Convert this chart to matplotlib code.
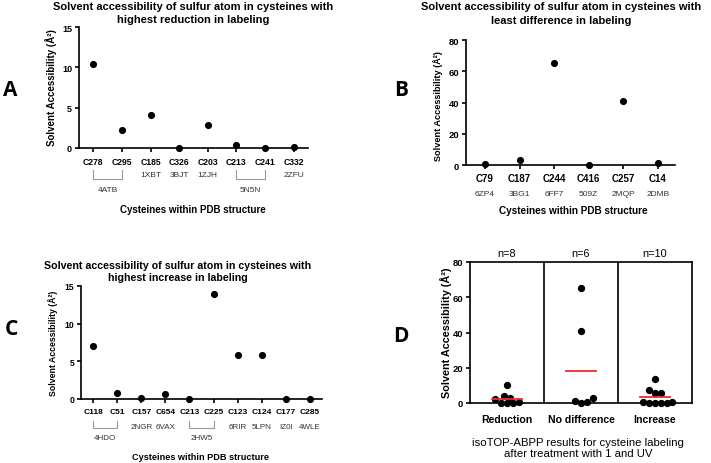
import matplotlib
matplotlib.use("Agg")
import matplotlib.pyplot as plt
import matplotlib.transforms as mtransforms

plt.rcParams["font.family"] = ["Liberation Sans", "DejaVu Sans"]

W, H = 711, 464

# --- data -------------------------------------------------------------------
a_cys = ["C278", "C295", "C185", "C326", "C203", "C213", "C241", "C332"]
a_vals = [10.4, 2.2, 4.1, 0.0, 2.9, 0.4, 0.0, 0.1]
a_pdb_single = {"C185": "1XBT", "C326": "3BJT", "C203": "1ZJH", "C332": "2ZFU"}
a_pdb_pairs = [("C278", "C295", "4ATB"), ("C213", "C241", "5N5N")]

b_cys = ["C79", "C187", "C244", "C416", "C257", "C14"]
b_vals = [0.8, 2.9, 65.0, 0.0, 40.8, 1.0]
b_pdb = ["6ZP4", "3BG1", "6FF7", "509Z", "2MQP", "2DMB"]

c_cys = ["C118", "C51", "C157", "C654", "C213", "C225", "C123", "C124", "C177", "C285"]
c_vals = [7.1, 0.8, 0.1, 0.65, 0.05, 13.9, 5.85, 5.9, 0.0, 0.0]
c_pdb_single = {"C157": "2NGR", "C654": "6VAX", "C123": "6RIR", "C124": "5LPN",
                "C177": "IZ0I", "C285": "4WLE"}
c_pdb_pairs = [("C118", "C51", "4HDO"), ("C213", "C225", "2HW5")]

d_groups = ["Reduction", "No difference", "Increase"]
d_vals = [a_vals, b_vals, c_vals]

YLAB = "Solvent Accessibility (Å²)"


def fx(x):
    return x / W


def fy(y):
    return 1 - y / H


def rect(l, t, r, b):
    return [l / W, 1 - b / H, (r - l) / W, (b - t) / H]


def style_axis(ax, tick_fs, ytick_fs, xpad=2.5):
    for s in ["top", "right"]:
        ax.spines[s].set_visible(False)
    for s in ["left", "bottom"]:
        ax.spines[s].set_linewidth(1.2)
    ax.tick_params(axis="both", direction="out", length=3, width=1.2, pad=2)
    ax.tick_params(axis="x", labelsize=tick_fs, pad=xpad)
    ax.tick_params(axis="y", labelsize=ytick_fs)
    for lab in ax.get_xticklabels() + ax.get_yticklabels():
        lab.set_fontweight("bold")


def category_panel(ax, cys, vals, ymax, ystep, tick_fs, ytick_fs):
    x = list(range(len(cys)))
    ax.scatter(x, vals, s=17, color="black", zorder=3, clip_on=False)
    ax.set_xlim(-0.5, len(cys) - 0.5)
    ax.set_ylim(0, ymax)
    ax.set_yticks(range(0, ymax + 1, ystep))
    ax.set_xticks(x)
    ax.set_xticklabels(cys)
    style_axis(ax, tick_fs, ytick_fs)


def pdb_labels(fig, ax, cys, singles, pairs, y_single, y_top, y_bot, y_pair, fs):
    tr = mtransforms.blended_transform_factory(ax.transData, fig.transFigure)
    for c, lab in singles.items():
        fig.text(cys.index(c), fy(y_single), lab, transform=tr, ha="center",
                 va="center", fontsize=fs, color="#333333")
    for c1, c2, lab in pairs:
        i1, i2 = cys.index(c1), cys.index(c2)
        fig.lines.append(plt.Line2D([i1, i1, i2, i2],
                                    [fy(y_top), fy(y_bot), fy(y_bot), fy(y_top)],
                                    transform=tr, color="#999999", lw=0.8))
        fig.text((i1 + i2) / 2, fy(y_pair), lab, transform=tr, ha="center",
                 va="center", fontsize=fs, color="#333333")


def swarm(vals, dx, dy):
    # simple beeswarm: spread points sideways so they do not overlap
    order = sorted(range(len(vals)), key=lambda i: vals[i])
    placed = []
    offs = [0.0] * len(vals)
    steps = [0]
    for k in range(1, 12):
        steps += [k * 0.5, -k * 0.5]
    for i in order:
        v = vals[i]
        for s in steps:
            xo = s * dx
            if all(((xo - px) / dx) ** 2 + ((v - pv) / dy) ** 2 >= 1 for px, pv in placed):
                break
        placed.append((xo, v))
        offs[i] = xo
    return offs


fig = plt.figure(figsize=(W / 100, H / 100), dpi=100)

# --- A ------------------------------------------------------------------------
axA = fig.add_axes(rect(79, 28, 308, 149))
category_panel(axA, a_cys, a_vals, 15, 5, 6.2, 6.5)
axA.tick_params(axis="x", pad=3.5)
pdb_labels(fig, axA, a_cys, a_pdb_single, a_pdb_pairs, 176, 170.5, 180, 191, 6)
fig.text(fx(193), fy(13.5), "Solvent accessibility of sulfur atom in cysteines with\n"
         "highest reduction in labeling", ha="center", va="center", fontsize=8,
         fontweight="bold", linespacing=1.3)
fig.text(fx(51), fy(88), YLAB, rotation=90, ha="center",
         va="center", fontsize=7, fontweight="bold")
fig.text(fx(193), fy(210), "Cysteines within PDB structure", ha="center", va="center",
         fontsize=7, fontweight="bold")

# --- B ------------------------------------------------------------------------
axB = fig.add_axes(rect(466, 41, 675, 166))
category_panel(axB, b_cys, b_vals, 80, 20, 7, 6.8)
axB.set_xlim(-0.55, len(b_cys) - 0.5)
trB = mtransforms.blended_transform_factory(axB.transData, fig.transFigure)
for i, lab in enumerate(b_pdb):
    fig.text(i, fy(195), lab, transform=trB, ha="center", va="center", fontsize=6,
             color="#333333")
fig.text(fx(561), fy(14.5), "Solvent accessibility of sulfur atom in cysteines with\n"
         "least difference in labeling", ha="center", va="center", fontsize=8,
         fontweight="bold", linespacing=1.5)
fig.text(fx(438), fy(106), YLAB, rotation=90, ha="center",
         va="center", fontsize=6.6, fontweight="bold")
fig.text(fx(573), fy(211), "Cysteines within PDB structure", ha="center", va="center",
         fontsize=7.2, fontweight="bold")

# --- C ------------------------------------------------------------------------
axC = fig.add_axes(rect(81, 287, 322, 400))
category_panel(axC, c_cys, c_vals, 15, 5, 6, 6.2)
axC.tick_params(axis="x", pad=3.5)
pdb_labels(fig, axC, c_cys, c_pdb_single, c_pdb_pairs, 428, 421.5, 429, 438.5, 5.8)
fig.text(fx(178), fy(272), "Solvent accessibility of sulfur atom in cysteines with\n"
         "highest increase in labeling", ha="center", va="center", fontsize=7.7,
         fontweight="bold", linespacing=1.3)
fig.text(fx(53), fy(343), YLAB, rotation=90, ha="center",
         va="center", fontsize=6.3, fontweight="bold")
fig.text(fx(200), fy(458), "Cysteines within PDB structure", ha="center", va="center",
         fontsize=6.6, fontweight="bold")

# --- D ------------------------------------------------------------------------
axD = fig.add_axes(rect(470, 263, 692, 404))
for g, vals in enumerate(d_vals, start=1):
    offs = swarm(vals, 0.078, 3.3)
    axD.scatter([g + o for o in offs], vals, s=18, color="black", zorder=3,
                clip_on=False)
    mean = sum(vals) / len(vals)
    axD.plot([g - 0.2, g + 0.2], [mean, mean], color="#ee2a35", lw=1.3, zorder=4)
    axD.text(g, 1.03, f"n={len(vals)}", transform=axD.get_xaxis_transform(),
             ha="center", va="bottom", fontsize=7.8)
for xd in [1.5, 2.5]:
    axD.axvline(xd, color="black", lw=1.2)
axD.set_xlim(0.5, 3.5)
axD.set_ylim(0, 80)
axD.set_yticks(range(0, 81, 20))
axD.set_xticks([1, 2, 3])
axD.set_xticklabels(d_groups)
style_axis(axD, 7.6, 6.8, xpad=5)
for s in ["top", "right"]:
    axD.spines[s].set_visible(True)
    axD.spines[s].set_linewidth(1.2)
fig.text(fx(446), fy(333), YLAB, rotation=90, ha="center",
         va="center", fontsize=7.8, fontweight="bold")
fig.text(fx(578), fy(448.5), "isoTOP-ABPP results for cysteine labeling\n"
         "after treatment with 1 and UV", ha="center", va="center", fontsize=8.2,
         linespacing=1.15)

# --- panel letters ------------------------------------------------------------
for lab, x, y in [("A", 10, 90), ("B", 401, 91), ("C", 11, 330), ("D", 401, 337)]:
    fig.text(fx(x), fy(y), lab, ha="center", va="center", fontsize=15,
             fontweight="bold", family=["Open Sans", "DejaVu Sans"])

fig.savefig("out.png", dpi=100)
